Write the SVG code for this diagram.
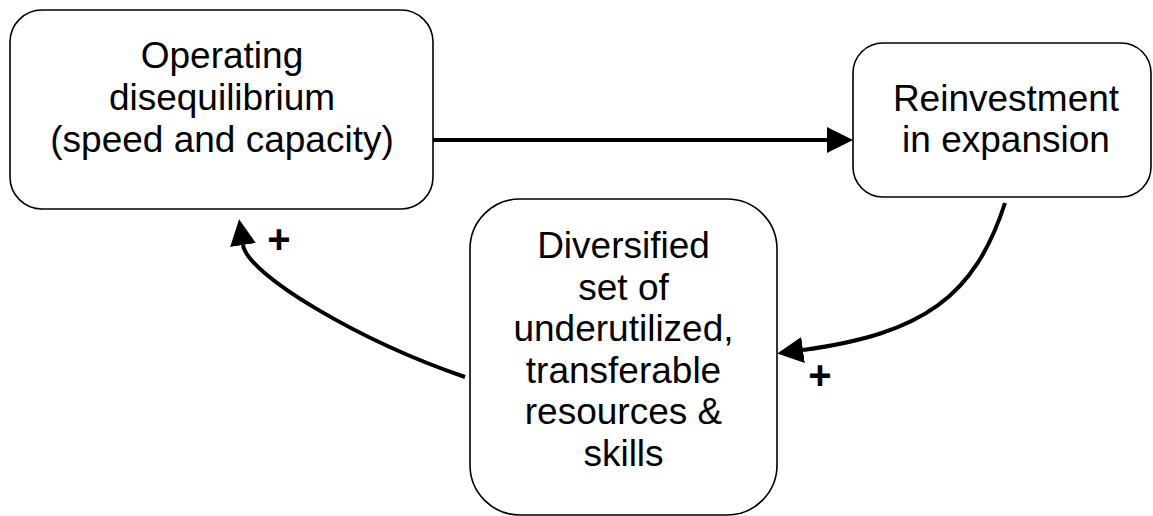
<svg xmlns="http://www.w3.org/2000/svg" width="1153" height="516" viewBox="0 0 1153 516">
  <style>
    .box { fill: #ffffff; stroke: #000000; stroke-width: 1.6; }
    .label { font-family: "Liberation Sans", Arial, sans-serif; font-size: 37px; fill: #000000; text-anchor: middle; }
    .link { fill: none; stroke: #000000; stroke-width: 4; }
    .sign { font-family: "Liberation Sans", Arial, sans-serif; font-size: 40px; font-weight: bold; fill: #000000; text-anchor: middle; }
  </style>
  <defs>
    <marker id="head" markerUnits="userSpaceOnUse" markerWidth="27" markerHeight="27" refX="0" refY="13" orient="auto" viewBox="0 0 27 27">
      <path d="M0,0 L26,13 L0,26 Z" fill="#000000"/>
    </marker>
  </defs>

  <rect width="1153" height="516" fill="#ffffff"/>

  <g id="connectors">
    <path class="link" d="M433,140 L827,140" marker-end="url(#head)"/>
    <path class="link" d="M1005,203 C974.6,296.6 923.4,333.6 803,350" marker-end="url(#head)"/>
    <path class="link" d="M465,377 C358.5,340.5 247.5,274.5 243,245" marker-end="url(#head)"/>
    <text class="sign" x="279" y="253">+</text>
    <text class="sign" x="820" y="389">+</text>
  </g>

  <g id="operating">
    <rect class="box" x="10" y="10" width="423" height="199" rx="32" ry="32"/>
    <text class="label" x="222" y="68">Operating</text>
    <text class="label" x="222" y="110">disequilibrium</text>
    <text class="label" x="222" y="152">(speed and capacity)</text>
  </g>

  <g id="reinvestment">
    <rect class="box" x="853" y="43" width="298" height="154" rx="30" ry="30"/>
    <text class="label" x="1006" y="111">Reinvestment</text>
    <text class="label" x="1006" y="152">in expansion</text>
  </g>

  <g id="resources">
    <rect class="box" x="470" y="199" width="307" height="316" rx="50" ry="50"/>
    <text class="label" x="623.5" y="258">Diversified</text>
    <text class="label" x="623.5" y="299.5">set of</text>
    <text class="label" x="623.5" y="341">underutilized,</text>
    <text class="label" x="623.5" y="382.5">transferable</text>
    <text class="label" x="623.5" y="424">resources &amp;</text>
    <text class="label" x="623.5" y="465.5">skills</text>
  </g>
</svg>
